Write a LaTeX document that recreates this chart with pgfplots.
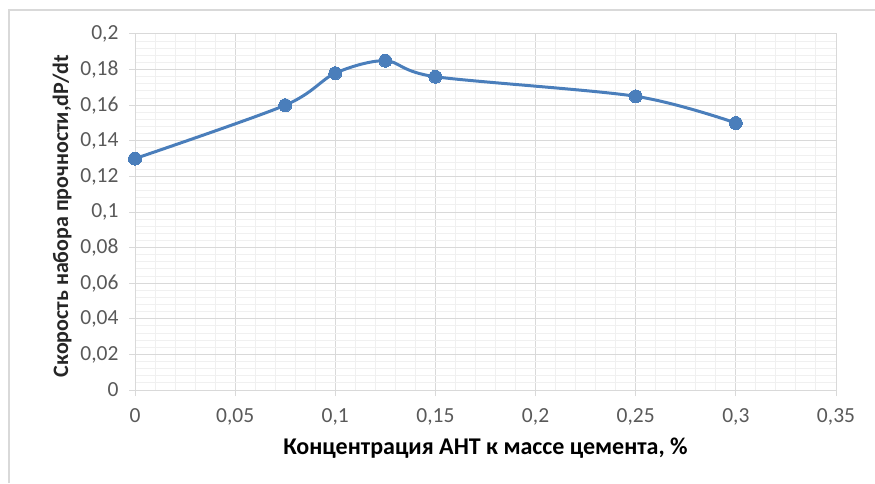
\documentclass[border=0pt]{standalone}
\usepackage{pgfplots}
\pgfplotsset{compat=1.18}
\usepackage{fontspec}
\setmainfont{Carlito}
\definecolor{serie}{HTML}{4A7EBB}
\definecolor{ticktxt}{HTML}{595959}
\definecolor{majg}{HTML}{D9D9D9}
\definecolor{ming}{HTML}{F0F0F0}
\definecolor{ylab}{HTML}{262626}
\begin{document}
\begin{tikzpicture}[x=1pt,y=1pt]
\path[use as bounding box] (0,0) rectangle (875,483);
\draw[color=majg, line width=1.5pt] (9,0) -- (9,473) -- (875,473);
\begin{axis}[
  at={(135pt,93pt)}, anchor=south west,
  scale only axis, width=701pt, height=356pt,
  xmin=0, xmax=0.35, ymin=0, ymax=0.2,
  xtick={0,0.05,0.1,0.15,0.2,0.25,0.3,0.35},
  xticklabels={0,{0,05},{0,1},{0,15},{0,2},{0,25},{0,3},{0,35}},
  ytick={0,0.02,0.04,0.06,0.08,0.1,0.12,0.14,0.16,0.18,0.2},
  yticklabels={0,{0,02},{0,04},{0,06},{0,08},{0,1},{0,12},{0,14},{0,16},{0,18},{0,2}},
  minor x tick num=4, minor y tick num=4,
  grid=both,
  major grid style={color=majg, line width=1pt},
  minor grid style={color=ming, line width=1pt},
  axis line style={color=majg, line width=1pt},
  xtick pos=bottom, ytick pos=left,
  tick align=outside,
  major tick length=6pt, minor tick length=0pt,
  major tick style={color=majg, line width=1pt},
  tick label style={font=\fontsize{21.5}{25}\selectfont, text=ticktxt},
  xticklabel style={yshift=-9pt},
  yticklabel style={xshift=-7pt},
  xlabel={Концентрация АНТ к массе цемента, \%},
  ylabel={Скорость набора прочности,dP/dt},
  every axis x label/.style={font=\fontsize{24}{28}\selectfont\bfseries, text=black,
    at={(axis description cs:0.5,-0.163)}, anchor=center},
  every axis y label/.style={font=\fontsize{22}{26}\selectfont\bfseries, text=ylab,
    at={(axis description cs:-0.104,0.489)}, rotate=90, anchor=center},
  clip=false,
]
\addplot[color=serie, line width=3pt, smooth, tension=0.5, mark=*, mark size=6.5pt,
  mark options={fill=serie, draw=serie, line width=0pt}]
  coordinates {(0,0.13) (0.075,0.16) (0.1,0.178) (0.125,0.185) (0.15,0.176) (0.25,0.165) (0.3,0.15)};
\end{axis}
\end{tikzpicture}
\end{document}
